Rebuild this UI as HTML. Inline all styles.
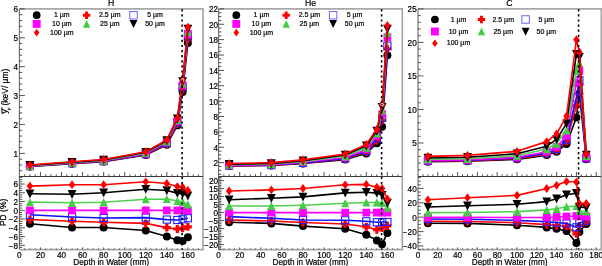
<!DOCTYPE html>
<html><head><meta charset="utf-8"><style>
html,body{margin:0;padding:0;background:#fff;width:602px;height:266px;overflow:hidden}
text{stroke:#000;stroke-width:0.2px;paint-order:stroke}
body{position:relative;font-family:"Liberation Sans", sans-serif}
</style></head><body>
<svg width="602" height="266" viewBox="0 0 602 266" style="position:absolute;left:0;top:0;will-change:transform" font-family='"Liberation Sans", sans-serif'>
<rect width="602" height="266" fill="#fff"/>
<clipPath id="c0u"><rect x="19.4" y="8.9" width="183.6" height="167.6"/></clipPath>
<clipPath id="c0l"><rect x="19.4" y="176.5" width="183.6" height="73.1"/></clipPath>
<path d="M19.4,8.9H203.0V249.6H19.4" stroke="#a8a8a8" stroke-width="1.7" fill="none"/>
<path d="M19.4,8.9V249.6" stroke="#6a6a6a" stroke-width="1.1" fill="none"/>
<path d="M19.4,176.5H203.0" stroke="#3a3a3a" stroke-width="1.1" fill="none"/>
<path d="M19.40,176.50h2.8M19.40,170.72h2.8M19.40,164.94h2.8M19.40,159.16h2.8M19.40,153.38h5.5M19.40,147.60h2.8M19.40,141.82h2.8M19.40,136.04h2.8M19.40,130.27h2.8M19.40,124.49h5.5M19.40,118.71h2.8M19.40,112.93h2.8M19.40,107.15h2.8M19.40,101.37h2.8M19.40,95.59h5.5M19.40,89.81h2.8M19.40,84.03h2.8M19.40,78.25h2.8M19.40,72.47h2.8M19.40,66.69h5.5M19.40,60.91h2.8M19.40,55.13h2.8M19.40,49.36h2.8M19.40,43.58h2.8M19.40,37.80h5.5M19.40,32.02h2.8M19.40,26.24h2.8M19.40,20.46h2.8M19.40,14.68h2.8M19.40,8.90h5.5M19.40,247.53h2.8M19.40,245.34h5.5M19.40,243.15h2.8M19.40,240.96h2.8M19.40,238.77h2.8M19.40,236.58h5.5M19.40,234.39h2.8M19.40,232.20h2.8M19.40,230.01h2.8M19.40,227.82h5.5M19.40,225.63h2.8M19.40,223.44h2.8M19.40,221.25h2.8M19.40,219.06h5.5M19.40,216.87h2.8M19.40,214.68h2.8M19.40,212.49h2.8M19.40,210.30h5.5M19.40,208.11h2.8M19.40,205.92h2.8M19.40,203.73h2.8M19.40,201.54h5.5M19.40,199.35h2.8M19.40,197.16h2.8M19.40,194.97h2.8M19.40,192.78h5.5M19.40,190.59h2.8M19.40,188.40h2.8M19.40,186.21h2.8M19.40,184.02h5.5M19.40,181.83h2.8M19.40,179.64h2.8M19.40,177.45h2.8M24.66,176.50v-2.2M24.66,249.60v-1.2M29.93,176.50v-2.2M29.93,249.60v-1.2M35.19,176.50v-2.2M35.19,249.60v-1.2M40.46,176.50v-4.5M40.46,249.60v-2.2M45.72,176.50v-2.2M45.72,249.60v-1.2M50.99,176.50v-2.2M50.99,249.60v-1.2M56.25,176.50v-2.2M56.25,249.60v-1.2M61.52,176.50v-4.5M61.52,249.60v-2.2M66.78,176.50v-2.2M66.78,249.60v-1.2M72.05,176.50v-2.2M72.05,249.60v-1.2M77.31,176.50v-2.2M77.31,249.60v-1.2M82.58,176.50v-4.5M82.58,249.60v-2.2M87.84,176.50v-2.2M87.84,249.60v-1.2M93.11,176.50v-2.2M93.11,249.60v-1.2M98.38,176.50v-2.2M98.38,249.60v-1.2M103.64,176.50v-4.5M103.64,249.60v-2.2M108.91,176.50v-2.2M108.91,249.60v-1.2M114.17,176.50v-2.2M114.17,249.60v-1.2M119.44,176.50v-2.2M119.44,249.60v-1.2M124.70,176.50v-4.5M124.70,249.60v-2.2M129.97,176.50v-2.2M129.97,249.60v-1.2M135.23,176.50v-2.2M135.23,249.60v-1.2M140.50,176.50v-2.2M140.50,249.60v-1.2M145.76,176.50v-4.5M145.76,249.60v-2.2M151.03,176.50v-2.2M151.03,249.60v-1.2M156.29,176.50v-2.2M156.29,249.60v-1.2M161.56,176.50v-2.2M161.56,249.60v-1.2M166.82,176.50v-4.5M166.82,249.60v-2.2M172.09,176.50v-2.2M172.09,249.60v-1.2M177.35,176.50v-2.2M177.35,249.60v-1.2M182.62,176.50v-2.2M182.62,249.60v-1.2M187.88,176.50v-4.5M187.88,249.60v-2.2M193.14,176.50v-2.2M193.14,249.60v-1.2M198.41,176.50v-2.2M198.41,249.60v-1.2" stroke="#404040" stroke-width="0.9" fill="none"/>
<text x="18.10" y="156.78" font-size="8.2" text-anchor="end" >1</text>
<text x="18.10" y="127.89" font-size="8.2" text-anchor="end" >2</text>
<text x="18.10" y="98.99" font-size="8.2" text-anchor="end" >3</text>
<text x="18.10" y="70.09" font-size="8.2" text-anchor="end" >4</text>
<text x="18.10" y="41.20" font-size="8.2" text-anchor="end" >5</text>
<text x="18.10" y="12.30" font-size="8.2" text-anchor="end" >6</text>
<text x="18.10" y="248.74" font-size="8.2" text-anchor="end" >−8</text>
<text x="18.10" y="239.98" font-size="8.2" text-anchor="end" >−6</text>
<text x="18.10" y="231.22" font-size="8.2" text-anchor="end" >−4</text>
<text x="18.10" y="222.46" font-size="8.2" text-anchor="end" >−2</text>
<text x="18.10" y="213.70" font-size="8.2" text-anchor="end" >0</text>
<text x="18.10" y="204.94" font-size="8.2" text-anchor="end" >2</text>
<text x="18.10" y="196.18" font-size="8.2" text-anchor="end" >4</text>
<text x="18.10" y="187.42" font-size="8.2" text-anchor="end" >6</text>
<text x="19.40" y="257.60" font-size="8.2" text-anchor="middle" >0</text>
<text x="40.46" y="257.60" font-size="8.2" text-anchor="middle" >20</text>
<text x="61.52" y="257.60" font-size="8.2" text-anchor="middle" >40</text>
<text x="82.58" y="257.60" font-size="8.2" text-anchor="middle" >60</text>
<text x="103.64" y="257.60" font-size="8.2" text-anchor="middle" >80</text>
<text x="124.70" y="257.60" font-size="8.2" text-anchor="middle" >100</text>
<text x="145.76" y="257.60" font-size="8.2" text-anchor="middle" >120</text>
<text x="166.82" y="257.60" font-size="8.2" text-anchor="middle" >140</text>
<text x="187.88" y="257.60" font-size="8.2" text-anchor="middle" >160</text>
<text x="111.20" y="264.90" font-size="8.2" text-anchor="middle" >Depth in Water (mm)</text>
<text x="111.20" y="6.10" font-size="8.7" text-anchor="middle" >H</text>
<g clip-path="url(#c0u)"><path d="M29.93,166.43L72.05,163.68L103.64,161.60L145.76,154.96L166.82,144.72L177.35,125.38L182.62,91.99L187.88,42.91" stroke="#000" stroke-width="1.6" fill="none" stroke-linejoin="round"/><circle cx="29.93" cy="166.43" r="3.99" fill="#000"/><circle cx="72.05" cy="163.68" r="3.99" fill="#000"/><circle cx="103.64" cy="161.60" r="3.99" fill="#000"/><circle cx="145.76" cy="154.96" r="3.99" fill="#000"/><circle cx="166.82" cy="144.72" r="3.99" fill="#000"/><circle cx="177.35" cy="125.38" r="3.99" fill="#000"/><circle cx="182.62" cy="91.99" r="3.99" fill="#000"/><circle cx="187.88" cy="42.91" r="3.99" fill="#000"/><path d="M29.93,166.27L72.05,163.40L103.64,161.34L145.76,154.50L166.82,143.89L177.35,123.80L182.62,89.18L187.88,39.35" stroke="#ff0000" stroke-width="1.6" fill="none" stroke-linejoin="round"/><path d="M28.33,162.28H31.53V164.67H33.92V167.86H31.53V170.26H28.33V167.86H25.94V164.67H28.33Z" fill="#ff0000"/><path d="M70.45,159.41H73.65V161.80H76.04V165.00H73.65V167.39H70.45V165.00H68.06V161.80H70.45Z" fill="#ff0000"/><path d="M102.04,157.35H105.24V159.74H107.63V162.93H105.24V165.33H102.04V162.93H99.65V159.74H102.04Z" fill="#ff0000"/><path d="M144.16,150.51H147.36V152.90H149.75V156.10H147.36V158.49H144.16V156.10H141.77V152.90H144.16Z" fill="#ff0000"/><path d="M165.22,139.90H168.42V142.30H170.81V145.49H168.42V147.88H165.22V145.49H162.83V142.30H165.22Z" fill="#ff0000"/><path d="M175.75,119.81H178.95V122.20H181.34V125.40H178.95V127.79H175.75V125.40H173.36V122.20H175.75Z" fill="#ff0000"/><path d="M181.02,85.19H184.21V87.58H186.61V90.77H184.21V93.17H181.02V90.77H178.62V87.58H181.02Z" fill="#ff0000"/><path d="M186.28,35.36H189.48V37.75H191.87V40.94H189.48V43.34H186.28V40.94H183.89V37.75H186.28Z" fill="#ff0000"/><path d="M29.93,166.09L72.05,163.21L103.64,161.13L145.76,154.12L166.82,143.16L177.35,122.54L182.62,87.18L187.88,36.43" stroke="#1010ff" stroke-width="1.6" fill="none" stroke-linejoin="round"/><rect x="26.36" y="162.52" width="7.14" height="7.14" fill="none" stroke="#2020ff" stroke-width="1.1"/><rect x="68.48" y="159.64" width="7.14" height="7.14" fill="none" stroke="#2020ff" stroke-width="1.1"/><rect x="100.07" y="157.56" width="7.14" height="7.14" fill="none" stroke="#2020ff" stroke-width="1.1"/><rect x="142.19" y="150.55" width="7.14" height="7.14" fill="none" stroke="#2020ff" stroke-width="1.1"/><rect x="163.25" y="139.59" width="7.14" height="7.14" fill="none" stroke="#2020ff" stroke-width="1.1"/><rect x="173.78" y="118.97" width="7.14" height="7.14" fill="none" stroke="#2020ff" stroke-width="1.1"/><rect x="179.05" y="83.61" width="7.14" height="7.14" fill="none" stroke="#2020ff" stroke-width="1.1"/><rect x="184.31" y="32.86" width="7.14" height="7.14" fill="none" stroke="#2020ff" stroke-width="1.1"/><path d="M29.93,165.93L72.05,162.92L103.64,160.76L145.76,153.65L166.82,142.32L177.35,121.21L182.62,85.21L187.88,33.78" stroke="#ff00ff" stroke-width="1.6" fill="none" stroke-linejoin="round"/><rect x="26.07" y="162.06" width="7.73" height="7.73" fill="#ff00ff"/><rect x="68.19" y="159.06" width="7.73" height="7.73" fill="#ff00ff"/><rect x="99.78" y="156.89" width="7.73" height="7.73" fill="#ff00ff"/><rect x="141.90" y="149.79" width="7.73" height="7.73" fill="#ff00ff"/><rect x="162.96" y="138.46" width="7.73" height="7.73" fill="#ff00ff"/><rect x="173.49" y="117.34" width="7.73" height="7.73" fill="#ff00ff"/><rect x="178.75" y="81.35" width="7.73" height="7.73" fill="#ff00ff"/><rect x="184.02" y="29.92" width="7.73" height="7.73" fill="#ff00ff"/><path d="M29.93,165.62L72.05,162.59L103.64,160.35L145.76,152.92L166.82,141.28L177.35,119.89L182.62,83.35L187.88,31.72" stroke="#50d050" stroke-width="1.6" fill="none" stroke-linejoin="round"/><path d="M29.93,161.42L33.92,169.73H25.94Z" fill="#44cc44"/><path d="M72.05,158.39L76.04,166.70H68.06Z" fill="#44cc44"/><path d="M103.64,156.15L107.63,164.47H99.65Z" fill="#44cc44"/><path d="M145.76,148.72L149.75,157.03H141.77Z" fill="#44cc44"/><path d="M166.82,137.08L170.81,145.40H162.83Z" fill="#44cc44"/><path d="M177.35,115.69L181.34,124.01H173.36Z" fill="#44cc44"/><path d="M182.62,79.15L186.61,87.46H178.62Z" fill="#44cc44"/><path d="M187.88,27.52L191.87,35.83H183.89Z" fill="#44cc44"/><path d="M29.93,165.31L72.05,162.21L103.64,159.89L145.76,152.26L166.82,140.51L177.35,118.79L182.62,81.53L187.88,28.83" stroke="#000" stroke-width="1.6" fill="none" stroke-linejoin="round"/><path d="M25.52,161.12H34.34L29.93,169.94Z" fill="#000"/><path d="M67.64,158.02H76.46L72.05,166.84Z" fill="#000"/><path d="M99.23,155.70H108.05L103.64,164.52Z" fill="#000"/><path d="M141.35,148.07H150.17L145.76,156.89Z" fill="#000"/><path d="M162.41,136.32H171.23L166.82,145.14Z" fill="#000"/><path d="M172.94,114.60H181.76L177.35,123.42Z" fill="#000"/><path d="M178.21,77.34H187.03L182.62,86.16Z" fill="#000"/><path d="M183.47,24.64H192.29L187.88,33.46Z" fill="#000"/><path d="M29.93,165.02L72.05,161.79L103.64,159.49L145.76,151.78L166.82,139.87L177.35,117.89L182.62,80.07L187.88,27.04" stroke="#ff0000" stroke-width="1.6" fill="none" stroke-linejoin="round"/><path d="M29.93,160.61L33.19,165.02L29.93,169.43L26.67,165.02Z" fill="#ff0000"/><path d="M72.05,157.38L75.31,161.79L72.05,166.20L68.79,161.79Z" fill="#ff0000"/><path d="M103.64,155.08L106.90,159.49L103.64,163.90L100.38,159.49Z" fill="#ff0000"/><path d="M145.76,147.37L149.02,151.78L145.76,156.19L142.50,151.78Z" fill="#ff0000"/><path d="M166.82,135.46L170.08,139.87L166.82,144.28L163.56,139.87Z" fill="#ff0000"/><path d="M177.35,113.48L180.61,117.89L177.35,122.30L174.09,117.89Z" fill="#ff0000"/><path d="M182.62,75.66L185.88,80.07L182.62,84.48L179.35,80.07Z" fill="#ff0000"/><path d="M182.62,77.64L184.41,80.07L182.62,82.49L180.82,80.07Z" fill="#fff"/><circle cx="182.42" cy="80.07" r="0.9" fill="#000"/><path d="M187.88,22.63L191.14,27.04L187.88,31.45L184.62,27.04Z" fill="#ff0000"/></g>
<g clip-path="url(#c0l)"><path d="M29.93,223.80L72.05,227.50L103.64,227.50L145.76,230.50L166.82,236.60L177.35,240.30L182.62,241.00L187.88,237.30" stroke="#000" stroke-width="1.6" fill="none" stroke-linejoin="round"/><circle cx="29.93" cy="223.80" r="3.99" fill="#000"/><circle cx="72.05" cy="227.50" r="3.99" fill="#000"/><circle cx="103.64" cy="227.50" r="3.99" fill="#000"/><circle cx="145.76" cy="230.50" r="3.99" fill="#000"/><circle cx="166.82" cy="236.60" r="3.99" fill="#000"/><circle cx="177.35" cy="240.30" r="3.99" fill="#000"/><circle cx="182.62" cy="241.00" r="3.99" fill="#000"/><circle cx="187.88" cy="237.30" r="3.99" fill="#000"/><path d="M29.93,219.50L72.05,221.20L103.64,222.20L145.76,223.40L166.82,227.60L177.35,229.00L182.62,228.30L187.88,226.80" stroke="#ff0000" stroke-width="1.6" fill="none" stroke-linejoin="round"/><path d="M28.33,215.51H31.53V217.90H33.92V221.10H31.53V223.49H28.33V221.10H25.94V217.90H28.33Z" fill="#ff0000"/><path d="M70.45,217.21H73.65V219.60H76.04V222.80H73.65V225.19H70.45V222.80H68.06V219.60H70.45Z" fill="#ff0000"/><path d="M102.04,218.21H105.24V220.60H107.63V223.80H105.24V226.19H102.04V223.80H99.65V220.60H102.04Z" fill="#ff0000"/><path d="M144.16,219.41H147.36V221.80H149.75V225.00H147.36V227.39H144.16V225.00H141.77V221.80H144.16Z" fill="#ff0000"/><path d="M165.22,223.61H168.42V226.00H170.81V229.20H168.42V231.59H165.22V229.20H162.83V226.00H165.22Z" fill="#ff0000"/><path d="M175.75,225.01H178.95V227.40H181.34V230.60H178.95V232.99H175.75V230.60H173.36V227.40H175.75Z" fill="#ff0000"/><path d="M181.02,224.31H184.21V226.70H186.61V229.90H184.21V232.29H181.02V229.90H178.62V226.70H181.02Z" fill="#ff0000"/><path d="M186.28,222.81H189.48V225.20H191.87V228.40H189.48V230.79H186.28V228.40H183.89V225.20H186.28Z" fill="#ff0000"/><path d="M29.93,214.80L72.05,217.00L103.64,218.00L145.76,217.60L166.82,219.60L177.35,220.00L182.62,219.30L187.88,218.20" stroke="#1010ff" stroke-width="1.6" fill="none" stroke-linejoin="round"/><rect x="26.36" y="211.23" width="7.14" height="7.14" fill="none" stroke="#2020ff" stroke-width="1.1"/><rect x="68.48" y="213.43" width="7.14" height="7.14" fill="none" stroke="#2020ff" stroke-width="1.1"/><rect x="100.07" y="214.43" width="7.14" height="7.14" fill="none" stroke="#2020ff" stroke-width="1.1"/><rect x="142.19" y="214.03" width="7.14" height="7.14" fill="none" stroke="#2020ff" stroke-width="1.1"/><rect x="163.25" y="216.03" width="7.14" height="7.14" fill="none" stroke="#2020ff" stroke-width="1.1"/><rect x="173.78" y="216.43" width="7.14" height="7.14" fill="none" stroke="#2020ff" stroke-width="1.1"/><rect x="179.05" y="215.73" width="7.14" height="7.14" fill="none" stroke="#2020ff" stroke-width="1.1"/><rect x="184.31" y="214.63" width="7.14" height="7.14" fill="none" stroke="#2020ff" stroke-width="1.1"/><path d="M29.93,210.40L72.05,210.40L103.64,210.40L145.76,210.40L166.82,210.40L177.35,210.40L182.62,210.40L187.88,210.40" stroke="#ff00ff" stroke-width="1.6" fill="none" stroke-linejoin="round"/><rect x="26.07" y="206.54" width="7.73" height="7.73" fill="#ff00ff"/><rect x="68.19" y="206.54" width="7.73" height="7.73" fill="#ff00ff"/><rect x="99.78" y="206.54" width="7.73" height="7.73" fill="#ff00ff"/><rect x="141.90" y="206.54" width="7.73" height="7.73" fill="#ff00ff"/><rect x="162.96" y="206.54" width="7.73" height="7.73" fill="#ff00ff"/><rect x="173.49" y="206.54" width="7.73" height="7.73" fill="#ff00ff"/><rect x="178.75" y="206.54" width="7.73" height="7.73" fill="#ff00ff"/><rect x="184.02" y="206.54" width="7.73" height="7.73" fill="#ff00ff"/><path d="M29.93,202.10L72.05,202.80L103.64,202.20L145.76,199.20L166.82,199.00L177.35,201.00L182.62,202.00L187.88,204.30" stroke="#50d050" stroke-width="1.6" fill="none" stroke-linejoin="round"/><path d="M29.93,197.90L33.92,206.22H25.94Z" fill="#44cc44"/><path d="M72.05,198.60L76.04,206.92H68.06Z" fill="#44cc44"/><path d="M103.64,198.00L107.63,206.32H99.65Z" fill="#44cc44"/><path d="M145.76,195.00L149.75,203.32H141.77Z" fill="#44cc44"/><path d="M166.82,194.80L170.81,203.12H162.83Z" fill="#44cc44"/><path d="M177.35,196.80L181.34,205.12H173.36Z" fill="#44cc44"/><path d="M182.62,197.80L186.61,206.12H178.62Z" fill="#44cc44"/><path d="M187.88,200.10L191.87,208.42H183.89Z" fill="#44cc44"/><path d="M29.93,193.80L72.05,194.30L103.64,192.70L145.76,189.20L166.82,190.50L177.35,193.10L182.62,193.80L187.88,195.80" stroke="#000" stroke-width="1.6" fill="none" stroke-linejoin="round"/><path d="M25.52,189.61H34.34L29.93,198.43Z" fill="#000"/><path d="M67.64,190.11H76.46L72.05,198.93Z" fill="#000"/><path d="M99.23,188.51H108.05L103.64,197.33Z" fill="#000"/><path d="M141.35,185.01H150.17L145.76,193.83Z" fill="#000"/><path d="M162.41,186.31H171.23L166.82,195.13Z" fill="#000"/><path d="M172.94,188.91H181.76L177.35,197.73Z" fill="#000"/><path d="M178.21,189.61H187.03L182.62,198.43Z" fill="#000"/><path d="M183.47,191.61H192.29L187.88,200.43Z" fill="#000"/><path d="M29.93,186.10L72.05,184.70L103.64,184.70L145.76,181.80L166.82,183.50L177.35,186.60L182.62,187.20L187.88,190.50" stroke="#ff0000" stroke-width="1.6" fill="none" stroke-linejoin="round"/><path d="M29.93,181.69L33.19,186.10L29.93,190.51L26.67,186.10Z" fill="#ff0000"/><path d="M72.05,180.29L75.31,184.70L72.05,189.11L68.79,184.70Z" fill="#ff0000"/><path d="M103.64,180.29L106.90,184.70L103.64,189.11L100.38,184.70Z" fill="#ff0000"/><path d="M145.76,177.39L149.02,181.80L145.76,186.21L142.50,181.80Z" fill="#ff0000"/><path d="M166.82,179.09L170.08,183.50L166.82,187.91L163.56,183.50Z" fill="#ff0000"/><path d="M177.35,182.19L180.61,186.60L177.35,191.01L174.09,186.60Z" fill="#ff0000"/><path d="M182.62,182.79L185.88,187.20L182.62,191.61L179.35,187.20Z" fill="#ff0000"/><path d="M187.88,186.09L191.14,190.50L187.88,194.91L184.62,190.50Z" fill="#ff0000"/></g>
<path d="M182.09,9.200000000000001V176.5" stroke="#000" stroke-width="1.6" stroke-dasharray="2.2 2.9" fill="none"/>
<path d="M182.09,176.9V249.6" stroke="#000" stroke-width="1.6" stroke-dasharray="2.2 2.9" fill="none"/>
<circle cx="36.70" cy="15.20" r="3.85" fill="#000"/>
<text x="61.80" y="17.30" font-size="7" text-anchor="middle" >1 µm</text>
<path d="M85.12,11.50H88.08V13.72H90.30V16.68H88.08V18.91H85.12V16.68H82.89V13.72H85.12Z" fill="#ff0000"/>
<text x="109.80" y="17.30" font-size="7" text-anchor="middle" >2.5 µm</text>
<rect x="129.76" y="11.46" width="7.48" height="7.48" fill="none" stroke="#6060ff" stroke-width="0.95"/>
<text x="155.00" y="17.30" font-size="7" text-anchor="middle" >5 µm</text>
<rect x="32.74" y="19.94" width="7.91" height="7.91" fill="#ff00ff"/>
<text x="61.80" y="26.00" font-size="7" text-anchor="middle" >10 µm</text>
<path d="M86.60,20.00L90.30,27.72H82.89Z" fill="#44cc44"/>
<text x="109.80" y="26.00" font-size="7" text-anchor="middle" >25 µm</text>
<path d="M129.51,20.11H137.49L133.50,28.09Z" fill="#000"/>
<text x="155.00" y="26.00" font-size="7" text-anchor="middle" >50 µm</text>
<path d="M36.70,28.82L39.50,32.60L36.70,36.38L33.90,32.60Z" fill="#ff0000"/>
<text x="61.80" y="34.70" font-size="7" text-anchor="middle" >100 µm</text>
<clipPath id="c1u"><rect x="218.6" y="8.9" width="183.70000000000002" height="167.6"/></clipPath>
<clipPath id="c1l"><rect x="218.6" y="176.5" width="183.70000000000002" height="73.1"/></clipPath>
<path d="M218.6,8.9H402.3V249.6H218.6" stroke="#a8a8a8" stroke-width="1.7" fill="none"/>
<path d="M218.6,8.9V249.6" stroke="#6a6a6a" stroke-width="1.1" fill="none"/>
<path d="M218.6,176.5H402.3" stroke="#3a3a3a" stroke-width="1.1" fill="none"/>
<path d="M218.60,174.19h2.8M218.60,170.35h2.8M218.60,166.51h2.8M218.60,162.66h5.5M218.60,158.82h2.8M218.60,154.97h2.8M218.60,151.13h2.8M218.60,147.29h5.5M218.60,143.44h2.8M218.60,139.60h2.8M218.60,135.75h2.8M218.60,131.91h5.5M218.60,128.07h2.8M218.60,124.22h2.8M218.60,120.38h2.8M218.60,116.53h5.5M218.60,112.69h2.8M218.60,108.84h2.8M218.60,105.00h2.8M218.60,101.16h5.5M218.60,97.31h2.8M218.60,93.47h2.8M218.60,89.62h2.8M218.60,85.78h5.5M218.60,81.94h2.8M218.60,78.09h2.8M218.60,74.25h2.8M218.60,70.40h5.5M218.60,66.56h2.8M218.60,62.72h2.8M218.60,58.87h2.8M218.60,55.03h5.5M218.60,51.18h2.8M218.60,47.34h2.8M218.60,43.50h2.8M218.60,39.65h5.5M218.60,35.81h2.8M218.60,31.96h2.8M218.60,28.12h2.8M218.60,24.28h5.5M218.60,20.43h2.8M218.60,16.59h2.8M218.60,12.74h2.8M218.60,8.90h5.5M218.60,249.40h2.8M218.60,247.80h2.8M218.60,246.20h2.8M218.60,244.60h5.5M218.60,243.00h2.8M218.60,241.40h2.8M218.60,239.80h2.8M218.60,238.20h2.8M218.60,236.60h5.5M218.60,235.00h2.8M218.60,233.40h2.8M218.60,231.80h2.8M218.60,230.20h2.8M218.60,228.60h5.5M218.60,227.00h2.8M218.60,225.40h2.8M218.60,223.80h2.8M218.60,222.20h2.8M218.60,220.60h5.5M218.60,219.00h2.8M218.60,217.40h2.8M218.60,215.80h2.8M218.60,214.20h2.8M218.60,212.60h5.5M218.60,211.00h2.8M218.60,209.40h2.8M218.60,207.80h2.8M218.60,206.20h2.8M218.60,204.60h5.5M218.60,203.00h2.8M218.60,201.40h2.8M218.60,199.80h2.8M218.60,198.20h2.8M218.60,196.60h5.5M218.60,195.00h2.8M218.60,193.40h2.8M218.60,191.80h2.8M218.60,190.20h2.8M218.60,188.60h5.5M218.60,187.00h2.8M218.60,185.40h2.8M218.60,183.80h2.8M218.60,182.20h2.8M218.60,180.60h5.5M218.60,179.00h2.8M218.60,177.40h2.8M223.88,176.50v-2.2M223.88,249.60v-1.2M229.15,176.50v-2.2M229.15,249.60v-1.2M234.42,176.50v-2.2M234.42,249.60v-1.2M239.70,176.50v-4.5M239.70,249.60v-2.2M244.97,176.50v-2.2M244.97,249.60v-1.2M250.25,176.50v-2.2M250.25,249.60v-1.2M255.52,176.50v-2.2M255.52,249.60v-1.2M260.80,176.50v-4.5M260.80,249.60v-2.2M266.07,176.50v-2.2M266.07,249.60v-1.2M271.35,176.50v-2.2M271.35,249.60v-1.2M276.62,176.50v-2.2M276.62,249.60v-1.2M281.90,176.50v-4.5M281.90,249.60v-2.2M287.18,176.50v-2.2M287.18,249.60v-1.2M292.45,176.50v-2.2M292.45,249.60v-1.2M297.73,176.50v-2.2M297.73,249.60v-1.2M303.00,176.50v-4.5M303.00,249.60v-2.2M308.27,176.50v-2.2M308.27,249.60v-1.2M313.55,176.50v-2.2M313.55,249.60v-1.2M318.82,176.50v-2.2M318.82,249.60v-1.2M324.10,176.50v-4.5M324.10,249.60v-2.2M329.38,176.50v-2.2M329.38,249.60v-1.2M334.65,176.50v-2.2M334.65,249.60v-1.2M339.92,176.50v-2.2M339.92,249.60v-1.2M345.20,176.50v-4.5M345.20,249.60v-2.2M350.48,176.50v-2.2M350.48,249.60v-1.2M355.75,176.50v-2.2M355.75,249.60v-1.2M361.02,176.50v-2.2M361.02,249.60v-1.2M366.30,176.50v-4.5M366.30,249.60v-2.2M371.57,176.50v-2.2M371.57,249.60v-1.2M376.85,176.50v-2.2M376.85,249.60v-1.2M382.12,176.50v-2.2M382.12,249.60v-1.2M387.40,176.50v-4.5M387.40,249.60v-2.2M392.67,176.50v-2.2M392.67,249.60v-1.2M397.95,176.50v-2.2M397.95,249.60v-1.2" stroke="#404040" stroke-width="0.9" fill="none"/>
<text x="218.00" y="166.06" font-size="8.2" text-anchor="end" >2</text>
<text x="218.00" y="150.69" font-size="8.2" text-anchor="end" >4</text>
<text x="218.00" y="135.31" font-size="8.2" text-anchor="end" >6</text>
<text x="218.00" y="119.93" font-size="8.2" text-anchor="end" >8</text>
<text x="218.00" y="104.56" font-size="8.2" text-anchor="end" >10</text>
<text x="218.00" y="89.18" font-size="8.2" text-anchor="end" >12</text>
<text x="218.00" y="73.80" font-size="8.2" text-anchor="end" >14</text>
<text x="218.00" y="58.43" font-size="8.2" text-anchor="end" >16</text>
<text x="218.00" y="43.05" font-size="8.2" text-anchor="end" >18</text>
<text x="218.00" y="27.68" font-size="8.2" text-anchor="end" >20</text>
<text x="218.00" y="12.30" font-size="8.2" text-anchor="end" >22</text>
<text x="218.00" y="248.00" font-size="8.2" text-anchor="end" >−20</text>
<text x="218.00" y="240.00" font-size="8.2" text-anchor="end" >−15</text>
<text x="218.00" y="232.00" font-size="8.2" text-anchor="end" >−10</text>
<text x="218.00" y="224.00" font-size="8.2" text-anchor="end" >−5</text>
<text x="218.00" y="216.00" font-size="8.2" text-anchor="end" >0</text>
<text x="218.00" y="208.00" font-size="8.2" text-anchor="end" >5</text>
<text x="218.00" y="200.00" font-size="8.2" text-anchor="end" >10</text>
<text x="218.00" y="192.00" font-size="8.2" text-anchor="end" >15</text>
<text x="218.00" y="184.00" font-size="8.2" text-anchor="end" >20</text>
<text x="218.60" y="257.60" font-size="8.2" text-anchor="middle" >0</text>
<text x="239.70" y="257.60" font-size="8.2" text-anchor="middle" >20</text>
<text x="260.80" y="257.60" font-size="8.2" text-anchor="middle" >40</text>
<text x="281.90" y="257.60" font-size="8.2" text-anchor="middle" >60</text>
<text x="303.00" y="257.60" font-size="8.2" text-anchor="middle" >80</text>
<text x="324.10" y="257.60" font-size="8.2" text-anchor="middle" >100</text>
<text x="345.20" y="257.60" font-size="8.2" text-anchor="middle" >120</text>
<text x="366.30" y="257.60" font-size="8.2" text-anchor="middle" >140</text>
<text x="387.40" y="257.60" font-size="8.2" text-anchor="middle" >160</text>
<text x="310.45" y="264.90" font-size="8.2" text-anchor="middle" >Depth in Water (mm)</text>
<text x="310.50" y="6.10" font-size="8.7" text-anchor="middle" >He</text>
<g clip-path="url(#c1u)"><path d="M229.15,166.04L271.35,165.49L303.00,163.56L345.20,159.59L366.30,153.41L376.85,143.29L382.12,126.83L387.40,55.20" stroke="#000" stroke-width="1.6" fill="none" stroke-linejoin="round"/><circle cx="229.15" cy="166.04" r="3.99" fill="#000"/><circle cx="271.35" cy="165.49" r="3.99" fill="#000"/><circle cx="303.00" cy="163.56" r="3.99" fill="#000"/><circle cx="345.20" cy="159.59" r="3.99" fill="#000"/><circle cx="366.30" cy="153.41" r="3.99" fill="#000"/><circle cx="376.85" cy="143.29" r="3.99" fill="#000"/><circle cx="382.12" cy="126.83" r="3.99" fill="#000"/><circle cx="387.40" cy="55.20" r="3.99" fill="#000"/><path d="M229.15,165.87L271.35,165.29L303.00,163.21L345.20,158.97L366.30,151.98L376.85,140.48L382.12,120.37L387.40,48.95" stroke="#ff0000" stroke-width="1.6" fill="none" stroke-linejoin="round"/><path d="M227.55,161.88H230.75V164.27H233.14V167.46H230.75V169.86H227.55V167.46H225.16V164.27H227.55Z" fill="#ff0000"/><path d="M269.75,161.30H272.95V163.69H275.34V166.89H272.95V169.28H269.75V166.89H267.36V163.69H269.75Z" fill="#ff0000"/><path d="M301.40,159.22H304.60V161.61H306.99V164.80H304.60V167.20H301.40V164.80H299.01V161.61H301.40Z" fill="#ff0000"/><path d="M343.60,154.98H346.80V157.38H349.19V160.57H346.80V162.96H343.60V160.57H341.21V157.38H343.60Z" fill="#ff0000"/><path d="M364.70,147.99H367.90V150.38H370.29V153.57H367.90V155.97H364.70V153.57H362.31V150.38H364.70Z" fill="#ff0000"/><path d="M375.25,136.49H378.45V138.88H380.84V142.07H378.45V144.47H375.25V142.07H372.86V138.88H375.25Z" fill="#ff0000"/><path d="M380.53,116.38H383.72V118.77H386.12V121.96H383.72V124.36H380.53V121.96H378.13V118.77H380.53Z" fill="#ff0000"/><path d="M385.80,44.96H389.00V47.36H391.39V50.55H389.00V52.94H385.80V50.55H383.41V47.36H385.80Z" fill="#ff0000"/><path d="M229.15,165.59L271.35,165.06L303.00,162.96L345.20,158.50L366.30,150.99L376.85,138.53L382.12,117.98L387.40,45.61" stroke="#1010ff" stroke-width="1.6" fill="none" stroke-linejoin="round"/><rect x="225.58" y="162.02" width="7.14" height="7.14" fill="none" stroke="#2020ff" stroke-width="1.1"/><rect x="267.78" y="161.49" width="7.14" height="7.14" fill="none" stroke="#2020ff" stroke-width="1.1"/><rect x="299.43" y="159.39" width="7.14" height="7.14" fill="none" stroke="#2020ff" stroke-width="1.1"/><rect x="341.63" y="154.93" width="7.14" height="7.14" fill="none" stroke="#2020ff" stroke-width="1.1"/><rect x="362.73" y="147.42" width="7.14" height="7.14" fill="none" stroke="#2020ff" stroke-width="1.1"/><rect x="373.28" y="134.96" width="7.14" height="7.14" fill="none" stroke="#2020ff" stroke-width="1.1"/><rect x="378.56" y="114.41" width="7.14" height="7.14" fill="none" stroke="#2020ff" stroke-width="1.1"/><rect x="383.83" y="42.04" width="7.14" height="7.14" fill="none" stroke="#2020ff" stroke-width="1.1"/><path d="M229.15,165.28L271.35,164.58L303.00,162.23L345.20,157.51L366.30,149.44L376.85,135.98L382.12,114.23L387.40,37.35" stroke="#ff00ff" stroke-width="1.6" fill="none" stroke-linejoin="round"/><rect x="225.29" y="161.41" width="7.73" height="7.73" fill="#ff00ff"/><rect x="267.49" y="160.72" width="7.73" height="7.73" fill="#ff00ff"/><rect x="299.14" y="158.37" width="7.73" height="7.73" fill="#ff00ff"/><rect x="341.34" y="153.65" width="7.73" height="7.73" fill="#ff00ff"/><rect x="362.44" y="145.57" width="7.73" height="7.73" fill="#ff00ff"/><rect x="372.99" y="132.12" width="7.73" height="7.73" fill="#ff00ff"/><rect x="378.26" y="110.36" width="7.73" height="7.73" fill="#ff00ff"/><rect x="383.54" y="33.48" width="7.73" height="7.73" fill="#ff00ff"/><path d="M229.15,164.75L271.35,164.03L303.00,161.50L345.20,156.30L366.30,147.63L376.85,133.33L382.12,110.40L387.40,32.95" stroke="#50d050" stroke-width="1.6" fill="none" stroke-linejoin="round"/><path d="M229.15,160.55L233.14,168.86H225.16Z" fill="#44cc44"/><path d="M271.35,159.83L275.34,168.14H267.36Z" fill="#44cc44"/><path d="M303.00,157.30L306.99,165.62H299.01Z" fill="#44cc44"/><path d="M345.20,152.10L349.19,160.42H341.21Z" fill="#44cc44"/><path d="M366.30,143.43L370.29,151.75H362.31Z" fill="#44cc44"/><path d="M376.85,129.13L380.84,137.45H372.86Z" fill="#44cc44"/><path d="M382.12,106.20L386.12,114.51H378.13Z" fill="#44cc44"/><path d="M387.40,28.75L391.39,37.07H383.41Z" fill="#44cc44"/><path d="M229.15,164.25L271.35,163.38L303.00,160.68L345.20,154.98L366.30,145.81L376.85,130.86L382.12,107.25L387.40,28.90" stroke="#000" stroke-width="1.6" fill="none" stroke-linejoin="round"/><path d="M224.74,160.06H233.56L229.15,168.88Z" fill="#000"/><path d="M266.94,159.19H275.76L271.35,168.01Z" fill="#000"/><path d="M298.59,156.49H307.41L303.00,165.31Z" fill="#000"/><path d="M340.79,150.79H349.61L345.20,159.61Z" fill="#000"/><path d="M361.89,141.62H370.71L366.30,150.44Z" fill="#000"/><path d="M372.44,126.67H381.26L376.85,135.49Z" fill="#000"/><path d="M377.71,103.06H386.54L382.12,111.88Z" fill="#000"/><path d="M382.99,24.71H391.81L387.40,33.53Z" fill="#000"/><path d="M229.15,163.55L271.35,162.67L303.00,159.85L345.20,153.94L366.30,144.40L376.85,129.31L382.12,104.62L387.40,25.39" stroke="#ff0000" stroke-width="1.6" fill="none" stroke-linejoin="round"/><path d="M229.15,159.14L232.41,163.55L229.15,167.96L225.89,163.55Z" fill="#ff0000"/><path d="M271.35,158.26L274.61,162.67L271.35,167.08L268.09,162.67Z" fill="#ff0000"/><path d="M303.00,155.44L306.26,159.85L303.00,164.26L299.74,159.85Z" fill="#ff0000"/><path d="M345.20,149.53L348.46,153.94L345.20,158.35L341.94,153.94Z" fill="#ff0000"/><path d="M366.30,139.99L369.56,144.40L366.30,148.81L363.04,144.40Z" fill="#ff0000"/><path d="M376.85,124.90L380.11,129.31L376.85,133.72L373.59,129.31Z" fill="#ff0000"/><path d="M382.12,100.21L385.39,104.62L382.12,109.03L378.86,104.62Z" fill="#ff0000"/><path d="M382.12,102.19L383.92,104.62L382.12,107.04L380.33,104.62Z" fill="#fff"/><circle cx="381.93" cy="104.62" r="0.9" fill="#000"/><path d="M387.40,20.98L390.66,25.39L387.40,29.80L384.14,25.39Z" fill="#ff0000"/></g>
<g clip-path="url(#c1l)"><path d="M229.15,222.20L271.35,223.40L303.00,226.10L345.20,228.80L366.30,234.80L376.85,240.40L382.12,244.20L387.40,232.90" stroke="#000" stroke-width="1.6" fill="none" stroke-linejoin="round"/><circle cx="229.15" cy="222.20" r="3.99" fill="#000"/><circle cx="271.35" cy="223.40" r="3.99" fill="#000"/><circle cx="303.00" cy="226.10" r="3.99" fill="#000"/><circle cx="345.20" cy="228.80" r="3.99" fill="#000"/><circle cx="366.30" cy="234.80" r="3.99" fill="#000"/><circle cx="376.85" cy="240.40" r="3.99" fill="#000"/><circle cx="382.12" cy="244.20" r="3.99" fill="#000"/><circle cx="387.40" cy="232.90" r="3.99" fill="#000"/><path d="M229.15,220.00L271.35,221.00L303.00,222.50L345.20,224.00L366.30,226.80L376.85,229.70L382.12,228.00L387.40,225.80" stroke="#ff0000" stroke-width="1.6" fill="none" stroke-linejoin="round"/><path d="M227.55,216.01H230.75V218.40H233.14V221.60H230.75V223.99H227.55V221.60H225.16V218.40H227.55Z" fill="#ff0000"/><path d="M269.75,217.01H272.95V219.40H275.34V222.60H272.95V224.99H269.75V222.60H267.36V219.40H269.75Z" fill="#ff0000"/><path d="M301.40,218.51H304.60V220.90H306.99V224.10H304.60V226.49H301.40V224.10H299.01V220.90H301.40Z" fill="#ff0000"/><path d="M343.60,220.01H346.80V222.40H349.19V225.60H346.80V227.99H343.60V225.60H341.21V222.40H343.60Z" fill="#ff0000"/><path d="M364.70,222.81H367.90V225.20H370.29V228.40H367.90V230.79H364.70V228.40H362.31V225.20H364.70Z" fill="#ff0000"/><path d="M375.25,225.71H378.45V228.10H380.84V231.30H378.45V233.69H375.25V231.30H372.86V228.10H375.25Z" fill="#ff0000"/><path d="M380.53,224.01H383.72V226.40H386.12V229.60H383.72V231.99H380.53V229.60H378.13V226.40H380.53Z" fill="#ff0000"/><path d="M385.80,221.81H389.00V224.20H391.39V227.40H389.00V229.79H385.80V227.40H383.41V224.20H385.80Z" fill="#ff0000"/><path d="M229.15,216.60L271.35,218.30L303.00,220.00L345.20,220.30L366.30,221.30L376.85,222.30L382.12,222.00L387.40,222.00" stroke="#1010ff" stroke-width="1.6" fill="none" stroke-linejoin="round"/><rect x="225.58" y="213.03" width="7.14" height="7.14" fill="none" stroke="#2020ff" stroke-width="1.1"/><rect x="267.78" y="214.73" width="7.14" height="7.14" fill="none" stroke="#2020ff" stroke-width="1.1"/><rect x="299.43" y="216.43" width="7.14" height="7.14" fill="none" stroke="#2020ff" stroke-width="1.1"/><rect x="341.63" y="216.73" width="7.14" height="7.14" fill="none" stroke="#2020ff" stroke-width="1.1"/><rect x="362.73" y="217.73" width="7.14" height="7.14" fill="none" stroke="#2020ff" stroke-width="1.1"/><rect x="373.28" y="218.73" width="7.14" height="7.14" fill="none" stroke="#2020ff" stroke-width="1.1"/><rect x="378.56" y="218.43" width="7.14" height="7.14" fill="none" stroke="#2020ff" stroke-width="1.1"/><rect x="383.83" y="218.43" width="7.14" height="7.14" fill="none" stroke="#2020ff" stroke-width="1.1"/><path d="M229.15,212.60L271.35,212.60L303.00,212.60L345.20,212.60L366.30,212.60L376.85,212.60L382.12,212.60L387.40,212.60" stroke="#ff00ff" stroke-width="1.6" fill="none" stroke-linejoin="round"/><rect x="225.29" y="208.74" width="7.73" height="7.73" fill="#ff00ff"/><rect x="267.49" y="208.74" width="7.73" height="7.73" fill="#ff00ff"/><rect x="299.14" y="208.74" width="7.73" height="7.73" fill="#ff00ff"/><rect x="341.34" y="208.74" width="7.73" height="7.73" fill="#ff00ff"/><rect x="362.44" y="208.74" width="7.73" height="7.73" fill="#ff00ff"/><rect x="372.99" y="208.74" width="7.73" height="7.73" fill="#ff00ff"/><rect x="378.26" y="208.74" width="7.73" height="7.73" fill="#ff00ff"/><rect x="383.54" y="208.74" width="7.73" height="7.73" fill="#ff00ff"/><path d="M229.15,206.00L271.35,206.00L303.00,205.20L345.20,203.20L366.30,202.50L376.85,202.50L382.12,203.00L387.40,207.60" stroke="#50d050" stroke-width="1.6" fill="none" stroke-linejoin="round"/><path d="M229.15,201.80L233.14,210.12H225.16Z" fill="#44cc44"/><path d="M271.35,201.80L275.34,210.12H267.36Z" fill="#44cc44"/><path d="M303.00,201.00L306.99,209.32H299.01Z" fill="#44cc44"/><path d="M345.20,199.00L349.19,207.32H341.21Z" fill="#44cc44"/><path d="M366.30,198.30L370.29,206.62H362.31Z" fill="#44cc44"/><path d="M376.85,198.30L380.84,206.62H372.86Z" fill="#44cc44"/><path d="M382.12,198.80L386.12,207.12H378.13Z" fill="#44cc44"/><path d="M387.40,203.40L391.39,211.72H383.41Z" fill="#44cc44"/><path d="M229.15,199.70L271.35,198.30L303.00,196.90L345.20,192.90L366.30,192.30L376.85,193.10L382.12,195.10L387.40,203.00" stroke="#000" stroke-width="1.6" fill="none" stroke-linejoin="round"/><path d="M224.74,195.51H233.56L229.15,204.33Z" fill="#000"/><path d="M266.94,194.11H275.76L271.35,202.93Z" fill="#000"/><path d="M298.59,192.71H307.41L303.00,201.53Z" fill="#000"/><path d="M340.79,188.71H349.61L345.20,197.53Z" fill="#000"/><path d="M361.89,188.11H370.71L366.30,196.93Z" fill="#000"/><path d="M372.44,188.91H381.26L376.85,197.73Z" fill="#000"/><path d="M377.71,190.91H386.54L382.12,199.73Z" fill="#000"/><path d="M382.99,198.81H391.81L387.40,207.63Z" fill="#000"/><path d="M229.15,191.00L271.35,189.90L303.00,188.50L345.20,184.80L366.30,184.40L376.85,187.20L382.12,188.50L387.40,199.00" stroke="#ff0000" stroke-width="1.6" fill="none" stroke-linejoin="round"/><path d="M229.15,186.59L232.41,191.00L229.15,195.41L225.89,191.00Z" fill="#ff0000"/><path d="M271.35,185.49L274.61,189.90L271.35,194.31L268.09,189.90Z" fill="#ff0000"/><path d="M303.00,184.09L306.26,188.50L303.00,192.91L299.74,188.50Z" fill="#ff0000"/><path d="M345.20,180.39L348.46,184.80L345.20,189.21L341.94,184.80Z" fill="#ff0000"/><path d="M366.30,179.99L369.56,184.40L366.30,188.81L363.04,184.40Z" fill="#ff0000"/><path d="M376.85,182.79L380.11,187.20L376.85,191.61L373.59,187.20Z" fill="#ff0000"/><path d="M382.12,184.09L385.39,188.50L382.12,192.91L378.86,188.50Z" fill="#ff0000"/><path d="M387.40,194.59L390.66,199.00L387.40,203.41L384.14,199.00Z" fill="#ff0000"/></g>
<path d="M381.60,9.200000000000001V176.5" stroke="#000" stroke-width="1.6" stroke-dasharray="2.2 2.9" fill="none"/>
<path d="M381.60,176.9V249.6" stroke="#000" stroke-width="1.6" stroke-dasharray="2.2 2.9" fill="none"/>
<circle cx="236.30" cy="15.20" r="3.85" fill="#000"/>
<text x="261.40" y="17.30" font-size="7" text-anchor="middle" >1 µm</text>
<path d="M284.72,11.50H287.68V13.72H289.90V16.68H287.68V18.91H284.72V16.68H282.50V13.72H284.72Z" fill="#ff0000"/>
<text x="309.40" y="17.30" font-size="7" text-anchor="middle" >2.5 µm</text>
<rect x="329.36" y="11.46" width="7.48" height="7.48" fill="none" stroke="#6060ff" stroke-width="0.95"/>
<text x="354.60" y="17.30" font-size="7" text-anchor="middle" >5 µm</text>
<rect x="232.34" y="19.94" width="7.91" height="7.91" fill="#ff00ff"/>
<text x="261.40" y="26.00" font-size="7" text-anchor="middle" >10 µm</text>
<path d="M286.20,20.00L289.90,27.72H282.50Z" fill="#44cc44"/>
<text x="309.40" y="26.00" font-size="7" text-anchor="middle" >25 µm</text>
<path d="M329.11,20.11H337.09L333.10,28.09Z" fill="#000"/>
<text x="354.60" y="26.00" font-size="7" text-anchor="middle" >50 µm</text>
<path d="M236.30,28.82L239.10,32.60L236.30,36.38L233.50,32.60Z" fill="#ff0000"/>
<text x="261.40" y="34.70" font-size="7" text-anchor="middle" >100 µm</text>
<clipPath id="c2u"><rect x="418.0" y="8.9" width="183.29999999999995" height="167.6"/></clipPath>
<clipPath id="c2l"><rect x="418.0" y="176.5" width="183.29999999999995" height="73.1"/></clipPath>
<path d="M418.0,8.9H601.3V249.6H418.0" stroke="#a8a8a8" stroke-width="1.7" fill="none"/>
<path d="M418.0,8.9V249.6" stroke="#6a6a6a" stroke-width="1.1" fill="none"/>
<path d="M418.0,176.5H601.3" stroke="#3a3a3a" stroke-width="1.1" fill="none"/>
<path d="M418.00,176.50h2.8M418.00,169.80h2.8M418.00,163.09h2.8M418.00,156.39h2.8M418.00,149.68h2.8M418.00,142.98h5.5M418.00,136.28h2.8M418.00,129.57h2.8M418.00,122.87h2.8M418.00,116.16h2.8M418.00,109.46h5.5M418.00,102.76h2.8M418.00,96.05h2.8M418.00,89.35h2.8M418.00,82.64h2.8M418.00,75.94h5.5M418.00,69.24h2.8M418.00,62.53h2.8M418.00,55.83h2.8M418.00,49.12h2.8M418.00,42.42h5.5M418.00,35.72h2.8M418.00,29.01h2.8M418.00,22.31h2.8M418.00,15.60h2.8M418.00,8.90h5.5M418.00,249.60h2.8M418.00,246.00h5.5M418.00,242.40h2.8M418.00,238.80h2.8M418.00,235.20h2.8M418.00,231.60h5.5M418.00,228.00h2.8M418.00,224.40h2.8M418.00,220.80h2.8M418.00,217.20h5.5M418.00,213.60h2.8M418.00,210.00h2.8M418.00,206.40h2.8M418.00,202.80h5.5M418.00,199.20h2.8M418.00,195.60h2.8M418.00,192.00h2.8M418.00,188.40h5.5M418.00,184.80h2.8M418.00,181.20h2.8M418.00,177.60h2.8M422.95,176.50v-2.2M422.95,249.60v-1.2M427.90,176.50v-2.2M427.90,249.60v-1.2M432.85,176.50v-2.2M432.85,249.60v-1.2M437.80,176.50v-4.5M437.80,249.60v-2.2M442.75,176.50v-2.2M442.75,249.60v-1.2M447.70,176.50v-2.2M447.70,249.60v-1.2M452.65,176.50v-2.2M452.65,249.60v-1.2M457.60,176.50v-4.5M457.60,249.60v-2.2M462.55,176.50v-2.2M462.55,249.60v-1.2M467.50,176.50v-2.2M467.50,249.60v-1.2M472.45,176.50v-2.2M472.45,249.60v-1.2M477.40,176.50v-4.5M477.40,249.60v-2.2M482.35,176.50v-2.2M482.35,249.60v-1.2M487.30,176.50v-2.2M487.30,249.60v-1.2M492.25,176.50v-2.2M492.25,249.60v-1.2M497.20,176.50v-4.5M497.20,249.60v-2.2M502.15,176.50v-2.2M502.15,249.60v-1.2M507.10,176.50v-2.2M507.10,249.60v-1.2M512.05,176.50v-2.2M512.05,249.60v-1.2M517.00,176.50v-4.5M517.00,249.60v-2.2M521.95,176.50v-2.2M521.95,249.60v-1.2M526.90,176.50v-2.2M526.90,249.60v-1.2M531.85,176.50v-2.2M531.85,249.60v-1.2M536.80,176.50v-4.5M536.80,249.60v-2.2M541.75,176.50v-2.2M541.75,249.60v-1.2M546.70,176.50v-2.2M546.70,249.60v-1.2M551.65,176.50v-2.2M551.65,249.60v-1.2M556.60,176.50v-4.5M556.60,249.60v-2.2M561.55,176.50v-2.2M561.55,249.60v-1.2M566.50,176.50v-2.2M566.50,249.60v-1.2M571.45,176.50v-2.2M571.45,249.60v-1.2M576.40,176.50v-4.5M576.40,249.60v-2.2M581.35,176.50v-2.2M581.35,249.60v-1.2M586.30,176.50v-2.2M586.30,249.60v-1.2M591.25,176.50v-2.2M591.25,249.60v-1.2M596.20,176.50v-4.5M596.20,249.60v-2.2" stroke="#404040" stroke-width="0.9" fill="none"/>
<text x="416.70" y="146.38" font-size="8.2" text-anchor="end" >5</text>
<text x="416.70" y="112.86" font-size="8.2" text-anchor="end" >10</text>
<text x="416.70" y="79.34" font-size="8.2" text-anchor="end" >15</text>
<text x="416.70" y="45.82" font-size="8.2" text-anchor="end" >20</text>
<text x="416.70" y="12.30" font-size="8.2" text-anchor="end" >25</text>
<text x="416.70" y="249.40" font-size="8.2" text-anchor="end" >−40</text>
<text x="416.70" y="235.00" font-size="8.2" text-anchor="end" >−20</text>
<text x="416.70" y="220.60" font-size="8.2" text-anchor="end" >0</text>
<text x="416.70" y="206.20" font-size="8.2" text-anchor="end" >20</text>
<text x="416.70" y="191.80" font-size="8.2" text-anchor="end" >40</text>
<text x="418.00" y="257.60" font-size="8.2" text-anchor="middle" >0</text>
<text x="437.80" y="257.60" font-size="8.2" text-anchor="middle" >20</text>
<text x="457.60" y="257.60" font-size="8.2" text-anchor="middle" >40</text>
<text x="477.40" y="257.60" font-size="8.2" text-anchor="middle" >60</text>
<text x="497.20" y="257.60" font-size="8.2" text-anchor="middle" >80</text>
<text x="517.00" y="257.60" font-size="8.2" text-anchor="middle" >100</text>
<text x="536.80" y="257.60" font-size="8.2" text-anchor="middle" >120</text>
<text x="556.60" y="257.60" font-size="8.2" text-anchor="middle" >140</text>
<text x="576.40" y="257.60" font-size="8.2" text-anchor="middle" >160</text>
<text x="596.20" y="257.60" font-size="8.2" text-anchor="middle" >180</text>
<text x="509.65" y="264.90" font-size="8.2" text-anchor="middle" >Depth in Water (mm)</text>
<text x="509.50" y="6.10" font-size="8.7" text-anchor="middle" >C</text>
<g clip-path="url(#c2u)"><path d="M427.90,161.63L467.50,161.31L517.00,159.34L546.70,155.09L556.60,151.75L566.50,143.93L576.40,117.44L579.37,93.42L586.30,159.20" stroke="#000" stroke-width="1.6" fill="none" stroke-linejoin="round"/><circle cx="427.90" cy="161.63" r="3.99" fill="#000"/><circle cx="467.50" cy="161.31" r="3.99" fill="#000"/><circle cx="517.00" cy="159.34" r="3.99" fill="#000"/><circle cx="546.70" cy="155.09" r="3.99" fill="#000"/><circle cx="556.60" cy="151.75" r="3.99" fill="#000"/><circle cx="566.50" cy="143.93" r="3.99" fill="#000"/><circle cx="576.40" cy="117.44" r="3.99" fill="#000"/><circle cx="579.37" cy="93.42" r="3.99" fill="#000"/><circle cx="586.30" cy="159.20" r="3.99" fill="#000"/><path d="M427.90,161.18L467.50,160.87L517.00,158.67L546.70,154.12L556.60,150.40L566.50,141.30L576.40,105.83L579.37,84.70L586.30,158.67" stroke="#ff0000" stroke-width="1.6" fill="none" stroke-linejoin="round"/><path d="M426.30,157.19H429.50V159.58H431.89V162.77H429.50V165.17H426.30V162.77H423.91V159.58H426.30Z" fill="#ff0000"/><path d="M465.90,156.88H469.10V159.27H471.49V162.46H469.10V164.86H465.90V162.46H463.51V159.27H465.90Z" fill="#ff0000"/><path d="M515.40,154.68H518.60V157.07H520.99V160.26H518.60V162.66H515.40V160.26H513.01V157.07H515.40Z" fill="#ff0000"/><path d="M545.10,150.13H548.30V152.53H550.69V155.72H548.30V158.11H545.10V155.72H542.71V152.53H545.10Z" fill="#ff0000"/><path d="M555.00,146.41H558.20V148.81H560.59V152.00H558.20V154.39H555.00V152.00H552.61V148.81H555.00Z" fill="#ff0000"/><path d="M564.90,137.31H568.10V139.71H570.49V142.90H568.10V145.29H564.90V142.90H562.51V139.71H564.90Z" fill="#ff0000"/><path d="M574.80,101.84H578.00V104.23H580.39V107.43H578.00V109.82H574.80V107.43H572.41V104.23H574.80Z" fill="#ff0000"/><path d="M577.77,80.71H580.97V83.10H583.36V86.30H580.97V88.69H577.77V86.30H575.38V83.10H577.77Z" fill="#ff0000"/><path d="M584.70,154.68H587.90V157.07H590.29V160.26H587.90V162.66H584.70V160.26H582.31V157.07H584.70Z" fill="#ff0000"/><path d="M427.90,160.68L467.50,160.36L517.00,158.05L546.70,153.15L556.60,149.17L566.50,139.73L576.40,97.54L579.37,80.34L586.30,158.32" stroke="#1010ff" stroke-width="1.6" fill="none" stroke-linejoin="round"/><rect x="424.33" y="157.11" width="7.14" height="7.14" fill="none" stroke="#2020ff" stroke-width="1.1"/><rect x="463.93" y="156.79" width="7.14" height="7.14" fill="none" stroke="#2020ff" stroke-width="1.1"/><rect x="513.43" y="154.48" width="7.14" height="7.14" fill="none" stroke="#2020ff" stroke-width="1.1"/><rect x="543.13" y="149.58" width="7.14" height="7.14" fill="none" stroke="#2020ff" stroke-width="1.1"/><rect x="553.03" y="145.60" width="7.14" height="7.14" fill="none" stroke="#2020ff" stroke-width="1.1"/><rect x="562.93" y="136.16" width="7.14" height="7.14" fill="none" stroke="#2020ff" stroke-width="1.1"/><rect x="572.83" y="93.97" width="7.14" height="7.14" fill="none" stroke="#2020ff" stroke-width="1.1"/><rect x="575.80" y="76.77" width="7.14" height="7.14" fill="none" stroke="#2020ff" stroke-width="1.1"/><rect x="582.73" y="154.75" width="7.14" height="7.14" fill="none" stroke="#2020ff" stroke-width="1.1"/><path d="M427.90,160.32L467.50,159.92L517.00,157.27L546.70,151.67L556.60,146.92L566.50,135.82L576.40,83.12L579.37,70.90L586.30,157.21" stroke="#ff00ff" stroke-width="1.6" fill="none" stroke-linejoin="round"/><rect x="424.04" y="156.46" width="7.73" height="7.73" fill="#ff00ff"/><rect x="463.64" y="156.06" width="7.73" height="7.73" fill="#ff00ff"/><rect x="513.14" y="153.41" width="7.73" height="7.73" fill="#ff00ff"/><rect x="542.84" y="147.80" width="7.73" height="7.73" fill="#ff00ff"/><rect x="552.74" y="143.06" width="7.73" height="7.73" fill="#ff00ff"/><rect x="562.64" y="131.95" width="7.73" height="7.73" fill="#ff00ff"/><rect x="572.54" y="79.26" width="7.73" height="7.73" fill="#ff00ff"/><rect x="575.51" y="67.04" width="7.73" height="7.73" fill="#ff00ff"/><rect x="582.44" y="153.34" width="7.73" height="7.73" fill="#ff00ff"/><path d="M427.90,159.24L467.50,158.79L517.00,155.69L546.70,149.03L556.60,143.56L566.50,130.33L576.40,70.37L579.37,62.91L586.30,155.83" stroke="#50d050" stroke-width="1.6" fill="none" stroke-linejoin="round"/><path d="M427.90,155.04L431.89,163.36H423.91Z" fill="#44cc44"/><path d="M467.50,154.59L471.49,162.90H463.51Z" fill="#44cc44"/><path d="M517.00,151.49L520.99,159.81H513.01Z" fill="#44cc44"/><path d="M546.70,144.83L550.69,153.15H542.71Z" fill="#44cc44"/><path d="M556.60,139.36L560.59,147.68H552.61Z" fill="#44cc44"/><path d="M566.50,126.13L570.49,134.45H562.51Z" fill="#44cc44"/><path d="M576.40,66.17L580.39,74.48H572.41Z" fill="#44cc44"/><path d="M579.37,58.71L583.36,67.03H575.38Z" fill="#44cc44"/><path d="M586.30,151.63L590.29,159.94H582.31Z" fill="#44cc44"/><path d="M427.90,157.98L467.50,157.24L517.00,153.71L546.70,146.16L556.60,139.46L566.50,123.67L576.40,54.17L579.37,57.10L586.30,154.85" stroke="#000" stroke-width="1.6" fill="none" stroke-linejoin="round"/><path d="M423.49,153.79H432.31L427.90,162.61Z" fill="#000"/><path d="M463.09,153.05H471.91L467.50,161.87Z" fill="#000"/><path d="M512.59,149.52H521.41L517.00,158.34Z" fill="#000"/><path d="M542.29,141.97H551.11L546.70,150.79Z" fill="#000"/><path d="M552.19,135.27H561.01L556.60,144.09Z" fill="#000"/><path d="M562.09,119.48H570.91L566.50,128.30Z" fill="#000"/><path d="M571.99,49.98H580.81L576.40,58.80Z" fill="#000"/><path d="M574.96,52.91H583.78L579.37,61.73Z" fill="#000"/><path d="M581.89,150.66H590.71L586.30,159.48Z" fill="#000"/><path d="M427.90,156.36L467.50,155.37L517.00,151.35L546.70,141.62L556.60,133.93L566.50,116.23L576.40,39.75L579.37,52.02L586.30,153.76" stroke="#ff0000" stroke-width="1.6" fill="none" stroke-linejoin="round"/><path d="M427.90,151.95L431.16,156.36L427.90,160.77L424.64,156.36Z" fill="#ff0000"/><path d="M467.50,150.96L470.76,155.37L467.50,159.78L464.24,155.37Z" fill="#ff0000"/><path d="M517.00,146.94L520.26,151.35L517.00,155.76L513.74,151.35Z" fill="#ff0000"/><path d="M546.70,137.21L549.96,141.62L546.70,146.03L543.44,141.62Z" fill="#ff0000"/><path d="M556.60,129.52L559.86,133.93L556.60,138.34L553.34,133.93Z" fill="#ff0000"/><path d="M566.50,111.82L569.76,116.23L566.50,120.64L563.24,116.23Z" fill="#ff0000"/><path d="M576.40,35.34L579.66,39.75L576.40,44.16L573.14,39.75Z" fill="#ff0000"/><path d="M579.37,47.61L582.63,52.02L579.37,56.43L576.11,52.02Z" fill="#ff0000"/><path d="M586.30,149.35L589.56,153.76L586.30,158.17L583.04,153.76Z" fill="#ff0000"/></g>
<g clip-path="url(#c2l)"><path d="M427.90,223.20L467.50,223.40L517.00,225.20L546.70,227.40L556.60,228.80L566.50,231.00L576.40,242.90L579.37,232.00L586.30,224.00" stroke="#000" stroke-width="1.6" fill="none" stroke-linejoin="round"/><circle cx="427.90" cy="223.20" r="3.99" fill="#000"/><circle cx="467.50" cy="223.40" r="3.99" fill="#000"/><circle cx="517.00" cy="225.20" r="3.99" fill="#000"/><circle cx="546.70" cy="227.40" r="3.99" fill="#000"/><circle cx="556.60" cy="228.80" r="3.99" fill="#000"/><circle cx="566.50" cy="231.00" r="3.99" fill="#000"/><circle cx="576.40" cy="242.90" r="3.99" fill="#000"/><circle cx="579.37" cy="232.00" r="3.99" fill="#000"/><circle cx="586.30" cy="224.00" r="3.99" fill="#000"/><path d="M427.90,221.20L467.50,221.50L517.00,222.70L546.70,224.60L556.60,225.50L566.50,226.30L576.40,233.80L579.37,226.00L586.30,222.00" stroke="#ff0000" stroke-width="1.6" fill="none" stroke-linejoin="round"/><path d="M426.30,217.21H429.50V219.60H431.89V222.80H429.50V225.19H426.30V222.80H423.91V219.60H426.30Z" fill="#ff0000"/><path d="M465.90,217.51H469.10V219.90H471.49V223.10H469.10V225.49H465.90V223.10H463.51V219.90H465.90Z" fill="#ff0000"/><path d="M515.40,218.71H518.60V221.10H520.99V224.30H518.60V226.69H515.40V224.30H513.01V221.10H515.40Z" fill="#ff0000"/><path d="M545.10,220.61H548.30V223.00H550.69V226.20H548.30V228.59H545.10V226.20H542.71V223.00H545.10Z" fill="#ff0000"/><path d="M555.00,221.51H558.20V223.90H560.59V227.10H558.20V229.49H555.00V227.10H552.61V223.90H555.00Z" fill="#ff0000"/><path d="M564.90,222.31H568.10V224.70H570.49V227.90H568.10V230.29H564.90V227.90H562.51V224.70H564.90Z" fill="#ff0000"/><path d="M574.80,229.81H578.00V232.20H580.39V235.40H578.00V237.79H574.80V235.40H572.41V232.20H574.80Z" fill="#ff0000"/><path d="M577.77,222.01H580.97V224.40H583.36V227.60H580.97V229.99H577.77V227.60H575.38V224.40H577.77Z" fill="#ff0000"/><path d="M584.70,218.01H587.90V220.40H590.29V223.60H587.90V225.99H584.70V223.60H582.31V220.40H584.70Z" fill="#ff0000"/><path d="M427.90,219.00L467.50,219.30L517.00,220.40L546.70,221.80L556.60,222.50L566.50,223.50L576.40,227.30L579.37,223.00L586.30,220.70" stroke="#1010ff" stroke-width="1.6" fill="none" stroke-linejoin="round"/><rect x="424.33" y="215.43" width="7.14" height="7.14" fill="none" stroke="#2020ff" stroke-width="1.1"/><rect x="463.93" y="215.73" width="7.14" height="7.14" fill="none" stroke="#2020ff" stroke-width="1.1"/><rect x="513.43" y="216.83" width="7.14" height="7.14" fill="none" stroke="#2020ff" stroke-width="1.1"/><rect x="543.13" y="218.23" width="7.14" height="7.14" fill="none" stroke="#2020ff" stroke-width="1.1"/><rect x="553.03" y="218.93" width="7.14" height="7.14" fill="none" stroke="#2020ff" stroke-width="1.1"/><rect x="562.93" y="219.93" width="7.14" height="7.14" fill="none" stroke="#2020ff" stroke-width="1.1"/><rect x="572.83" y="223.73" width="7.14" height="7.14" fill="none" stroke="#2020ff" stroke-width="1.1"/><rect x="575.80" y="219.43" width="7.14" height="7.14" fill="none" stroke="#2020ff" stroke-width="1.1"/><rect x="582.73" y="217.13" width="7.14" height="7.14" fill="none" stroke="#2020ff" stroke-width="1.1"/><path d="M427.90,217.40L467.50,217.40L517.00,217.50L546.70,217.50L556.60,217.00L566.50,216.50L576.40,216.00L579.37,216.50L586.30,216.50" stroke="#ff00ff" stroke-width="1.6" fill="none" stroke-linejoin="round"/><rect x="424.04" y="213.54" width="7.73" height="7.73" fill="#ff00ff"/><rect x="463.64" y="213.54" width="7.73" height="7.73" fill="#ff00ff"/><rect x="513.14" y="213.64" width="7.73" height="7.73" fill="#ff00ff"/><rect x="542.84" y="213.64" width="7.73" height="7.73" fill="#ff00ff"/><rect x="552.74" y="213.14" width="7.73" height="7.73" fill="#ff00ff"/><rect x="562.64" y="212.64" width="7.73" height="7.73" fill="#ff00ff"/><rect x="572.54" y="212.14" width="7.73" height="7.73" fill="#ff00ff"/><rect x="575.51" y="212.64" width="7.73" height="7.73" fill="#ff00ff"/><rect x="582.44" y="212.64" width="7.73" height="7.73" fill="#ff00ff"/><path d="M427.90,212.60L467.50,212.50L517.00,211.60L546.70,209.90L556.60,208.80L566.50,206.70L576.40,206.00L579.37,211.00L586.30,211.30" stroke="#50d050" stroke-width="1.6" fill="none" stroke-linejoin="round"/><path d="M427.90,208.40L431.89,216.72H423.91Z" fill="#44cc44"/><path d="M467.50,208.30L471.49,216.62H463.51Z" fill="#44cc44"/><path d="M517.00,207.40L520.99,215.72H513.01Z" fill="#44cc44"/><path d="M546.70,205.70L550.69,214.02H542.71Z" fill="#44cc44"/><path d="M556.60,204.60L560.59,212.92H552.61Z" fill="#44cc44"/><path d="M566.50,202.50L570.49,210.82H562.51Z" fill="#44cc44"/><path d="M576.40,201.80L580.39,210.12H572.41Z" fill="#44cc44"/><path d="M579.37,206.80L583.36,215.12H575.38Z" fill="#44cc44"/><path d="M586.30,207.10L590.29,215.42H582.31Z" fill="#44cc44"/><path d="M427.90,207.00L467.50,205.80L517.00,204.20L546.70,201.60L556.60,198.80L566.50,194.80L576.40,193.30L579.37,207.00L586.30,207.60" stroke="#000" stroke-width="1.6" fill="none" stroke-linejoin="round"/><path d="M423.49,202.81H432.31L427.90,211.63Z" fill="#000"/><path d="M463.09,201.61H471.91L467.50,210.43Z" fill="#000"/><path d="M512.59,200.01H521.41L517.00,208.83Z" fill="#000"/><path d="M542.29,197.41H551.11L546.70,206.23Z" fill="#000"/><path d="M552.19,194.61H561.01L556.60,203.43Z" fill="#000"/><path d="M562.09,190.61H570.91L566.50,199.43Z" fill="#000"/><path d="M571.99,189.11H580.81L576.40,197.93Z" fill="#000"/><path d="M574.96,202.81H583.78L579.37,211.63Z" fill="#000"/><path d="M581.89,203.41H590.71L586.30,212.23Z" fill="#000"/><path d="M427.90,199.80L467.50,197.70L517.00,195.40L546.70,188.50L556.60,185.30L566.50,181.50L576.40,182.00L579.37,203.50L586.30,203.50" stroke="#ff0000" stroke-width="1.6" fill="none" stroke-linejoin="round"/><path d="M427.90,195.39L431.16,199.80L427.90,204.21L424.64,199.80Z" fill="#ff0000"/><path d="M467.50,193.29L470.76,197.70L467.50,202.11L464.24,197.70Z" fill="#ff0000"/><path d="M517.00,190.99L520.26,195.40L517.00,199.81L513.74,195.40Z" fill="#ff0000"/><path d="M546.70,184.09L549.96,188.50L546.70,192.91L543.44,188.50Z" fill="#ff0000"/><path d="M556.60,180.89L559.86,185.30L556.60,189.71L553.34,185.30Z" fill="#ff0000"/><path d="M566.50,177.09L569.76,181.50L566.50,185.91L563.24,181.50Z" fill="#ff0000"/><path d="M576.40,177.59L579.66,182.00L576.40,186.41L573.14,182.00Z" fill="#ff0000"/><path d="M579.37,199.09L582.63,203.50L579.37,207.91L576.11,203.50Z" fill="#ff0000"/><path d="M586.30,199.09L589.56,203.50L586.30,207.91L583.04,203.50Z" fill="#ff0000"/></g>
<path d="M578.58,9.200000000000001V176.5" stroke="#000" stroke-width="1.6" stroke-dasharray="2.2 2.9" fill="none"/>
<path d="M578.58,176.9V249.6" stroke="#000" stroke-width="1.6" stroke-dasharray="2.2 2.9" fill="none"/>
<circle cx="434.90" cy="19.50" r="3.85" fill="#000"/>
<text x="458.50" y="21.60" font-size="7" text-anchor="middle" >1 µm</text>
<path d="M480.02,15.79H482.98V18.02H485.20V20.98H482.98V23.20H480.02V20.98H477.80V18.02H480.02Z" fill="#ff0000"/>
<text x="503.20" y="21.60" font-size="7" text-anchor="middle" >2.5 µm</text>
<rect x="521.86" y="15.76" width="7.48" height="7.48" fill="none" stroke="#6060ff" stroke-width="0.95"/>
<text x="546.30" y="21.60" font-size="7" text-anchor="middle" >5 µm</text>
<rect x="430.94" y="27.54" width="7.91" height="7.91" fill="#ff00ff"/>
<text x="458.50" y="33.60" font-size="7" text-anchor="middle" >10 µm</text>
<path d="M481.50,27.60L485.20,35.32H477.80Z" fill="#44cc44"/>
<text x="503.20" y="33.60" font-size="7" text-anchor="middle" >25 µm</text>
<path d="M521.61,27.71H529.59L525.60,35.69Z" fill="#000"/>
<text x="546.30" y="33.60" font-size="7" text-anchor="middle" >50 µm</text>
<path d="M434.90,39.52L437.70,43.30L434.90,47.08L432.10,43.30Z" fill="#ff0000"/>
<text x="458.50" y="45.40" font-size="7" text-anchor="middle" >100 µm</text>
<text transform="translate(7.5,105.6) rotate(-90)" font-size="8.5" text-anchor="start">(keV/ µm)</text>
<text transform="translate(7.3,113.8) rotate(-90)" font-size="9.6" text-anchor="start">y</text>
<text transform="translate(10.6,110.2) rotate(-90)" font-size="4.2" text-anchor="start" style="stroke-width:0.15px">F</text>
<path d="M1.9,113.6V107.2" stroke="#000" stroke-width="0.9"/>
<text transform="translate(6.4,212.4) rotate(-90)" font-size="8.5" text-anchor="middle">PD (%)</text>
</svg>
</body></html>
